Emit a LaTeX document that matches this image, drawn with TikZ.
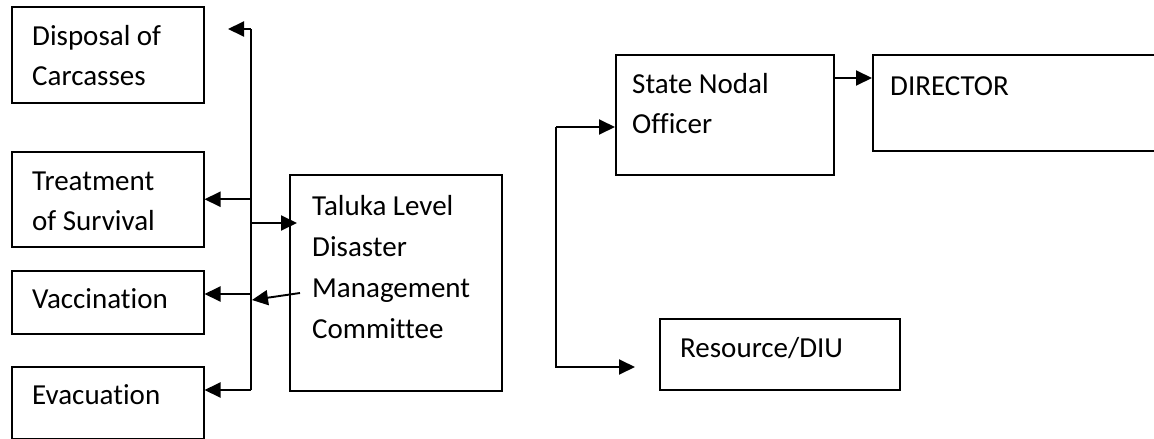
\documentclass[tikz,border=0pt]{standalone}
\usepackage{fontspec}
\setmainfont[Ligatures=NoCommon]{Carlito}
\usetikzlibrary{arrows.meta,calc}

\begin{document}
\begin{tikzpicture}[x=1pt,y=-1pt,
  box/.style={draw,line width=1.5pt,inner sep=0pt,anchor=north west},
  txt/.style={inner sep=0pt,anchor=base west,align=left,
    font=\fontsize{29}{40}\selectfont},
  link/.style={line width=1.9pt},
  arr/.style={line width=1.9pt,-{Triangle[length=16pt,width=15pt]}}]
\useasboundingbox (0,0) rectangle (1154,439);

% left column of tasks (text anchored at the baseline of its last line)
\node[box,minimum width=192pt,minimum height=96pt] (disp) at (11,6) {};
\node[txt] (disptxt) at ($(disp.north west)+(21,79)$) {Disposal of\\Carcasses};
\node[box,minimum width=192pt,minimum height=95pt] (treat) at (11,151) {};
\node[txt] (treattxt) at ($(treat.north west)+(21,79)$) {Treatment\\of Survival};
\node[box,minimum width=192pt,minimum height=63pt] (vacc) at (11,270) {};
\node[txt] (vacctxt) at ($(vacc.north west)+(21,38)$) {Vaccination};
\node[box,minimum width=192pt,minimum height=72pt] (evac) at (11,366) {};
\node[txt] (evactxt) at ($(evac.north west)+(21,38)$) {Evacuation};

% committee
\node[box,minimum width=212pt,minimum height=216pt] (taluka) at (289,174) {};
\node[txt,font=\fontsize{29}{41}\selectfont] (talukatxt)
  at ($(taluka.north west)+(23,164)$)
  {Taluka Level\\Disaster\\Management\\Committee};

% state level
\node[box,minimum width=218pt,minimum height=120pt] (sno) at (615,54) {};
\node[txt] (snotxt) at ($(sno.north west)+(17,79)$) {State Nodal\\Officer};
\node[box,minimum width=300pt,minimum height=96pt] (dir) at (872,54) {};
\node[txt] (dirtxt) at ($(dir.north west)+(18,41)$) {DIRECTOR};
\node[box,minimum width=240pt,minimum height=71pt] (res) at (659,318) {};
\node[txt] (restxt) at ($(res.north west)+(21,39)$) {Resource/DIU};

% distribution bus on the left
\coordinate (bustop) at (251,29);
\coordinate (busbot) at (251,390);
\coordinate (dispin) at (228,29);
\coordinate (talin) at (297,223);
\coordinate (talout) at (300,293);
\coordinate (busin) at (252,300);
\draw[link] (bustop) -- (busbot);
\draw[arr] (bustop) -- (dispin);
\draw[arr] (bustop |- treat.east) -- (treat.east);
\draw[arr] (bustop |- talin) -- (talin);
\draw[arr] (bustop |- 0,294) -- (vacc.east |- 0,294);
\draw[arr] (talout) -- (busin);
\draw[arr] (busbot) -- (evac.east |- busbot);

% state level links
\coordinate (split) at (556,127);
\coordinate (resin) at (635,367);
\draw[arr] (split) -- (sno.west |- split);
\draw[arr] (split) |- (resin);
\draw[arr] (sno.east |- 0,78) -- (dir.west |- 0,78);
\end{tikzpicture}
\end{document}
